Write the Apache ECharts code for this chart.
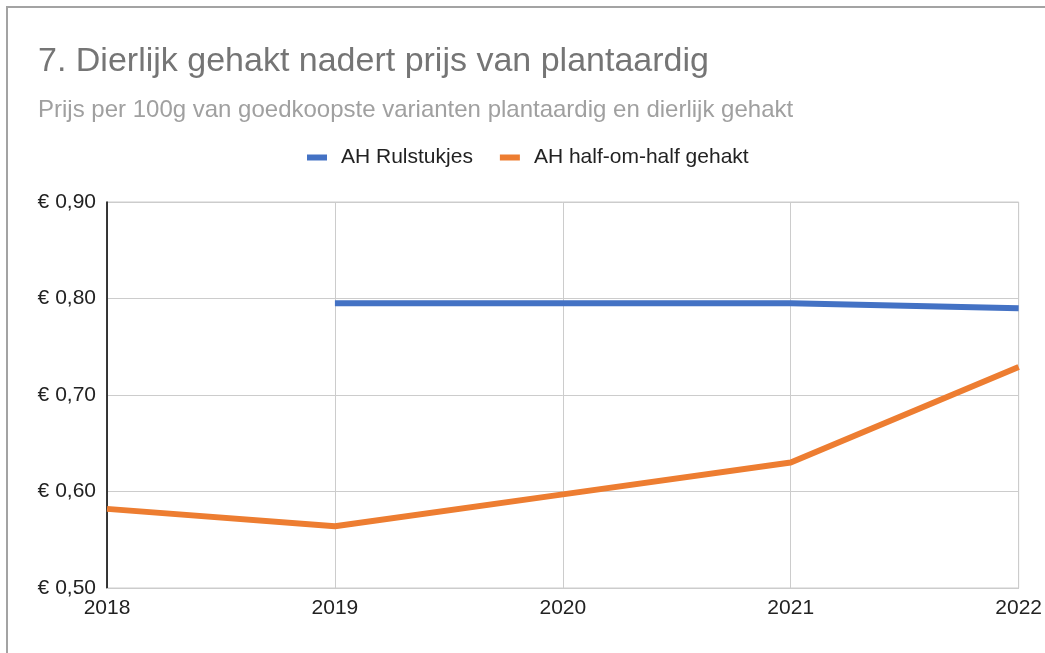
<!DOCTYPE html>
<html>
<head>
<meta charset="utf-8">
<script src="https://cdn.jsdelivr.net/npm/echarts@6/dist/echarts.min.js"></script>
<style>
    html, body { margin: 0; padding: 0; background: #fff; }
    #frame {
        position: absolute; left: 6px; top: 6px; width: 1045px; height: 653px;
        border-left: 2px solid #a3a3a3; border-top: 2px solid #a3a3a3;
    }
    #chart { position: absolute; left: 0; top: 0; width: 1045px; height: 653px; }
</style>
</head>
<body>
<div id="frame"></div>
<div id="chart"></div>
<script>
// Prices per 100g
const years = ['2018', '2019', '2020', '2021', '2022'];
const rulstukjes = [null, 0.795, 0.795, 0.795, 0.79];
const halfOmHalf = [0.582, 0.564, 0.597, 0.63, 0.729];

const chartDom = document.getElementById('chart'),
    priceChart = echarts.init(chartDom);

const fontFamily = 'Arial, "Liberation Sans", sans-serif';

let option = {
    textStyle: { fontFamily: fontFamily },
    title: [
        {
            text: '7. Dierlijk gehakt nadert prijs van plantaardig',
            left: 33,
            top: 40,
            textStyle: { fontSize: 34, fontWeight: 'normal', color: '#757575', fontFamily: fontFamily }
        },
        {
            text: 'Prijs per 100g van goedkoopste varianten plantaardig en dierlijk gehakt',
            left: 33,
            top: 93,
            textStyle: { fontSize: 24, fontWeight: 'normal', color: '#a0a0a0', fontFamily: fontFamily }
        }
    ],
    legend: {
        top: 142,
        left: 302,
        icon: 'rect',
        itemWidth: 20,
        itemHeight: 6,
        itemGap: 27,
        textStyle: { fontSize: 21, color: '#222', fontFamily: fontFamily, padding: [0, 0, 0, 9] }
    },
    grid: {
        left: 107,
        right: 25,
        top: 202,
        bottom: 65,
        show: true,
        borderColor: '#cccccc',
        borderWidth: 1
    },
    xAxis: {
        type: 'category',
        data: years,
        boundaryGap: false,
        axisLine: { lineStyle: { color: '#cccccc' } },
        axisTick: { show: false },
        axisLabel: { fontSize: 21, color: '#222', margin: 10 },
        splitLine: { show: true, lineStyle: { color: '#cccccc' } }
    },
    yAxis: {
        type: 'value',
        min: 0.5,
        max: 0.9,
        interval: 0.1,
        axisLine: { show: true, lineStyle: { color: '#000', width: 1.5 } },
        axisTick: { show: false },
        axisLabel: {
            fontSize: 21,
            color: '#222',
            margin: 11,
            formatter: function (val) {
                return '€ ' + val.toFixed(2).replace('.', ',');
            }
        },
        splitLine: { lineStyle: { color: '#cccccc' } }
    },
    series: [
        {
            name: 'AH Rulstukjes',
            type: 'line',
            data: rulstukjes,
            showSymbol: false,
            lineStyle: { width: 6, color: '#4472c4' },
            itemStyle: { color: '#4472c4' }
        },
        {
            name: 'AH half-om-half gehakt',
            type: 'line',
            data: halfOmHalf,
            showSymbol: false,
            lineStyle: { width: 6, color: '#ed7d31' },
            itemStyle: { color: '#ed7d31' }
        }
    ]
};

option && priceChart.setOption(option);
</script>
</body>
</html>
